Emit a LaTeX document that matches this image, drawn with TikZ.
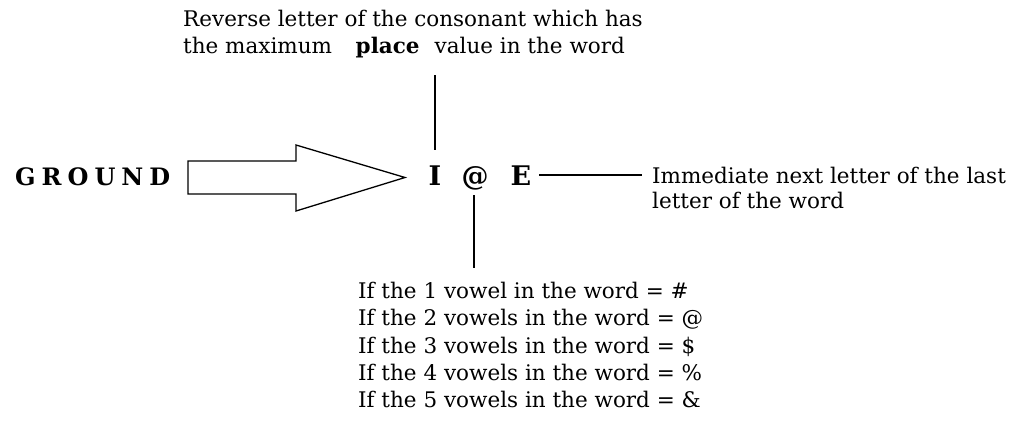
\documentclass[tikz,border=0pt]{standalone}
\usepackage{fontspec}
\setmainfont{DejaVu Serif}
\usepackage{tikz}
\usetikzlibrary{positioning,calc}

\tikzset{
  note/.style={inner sep=0pt, align=left, font=\fontsize{21.5}{27}\selectfont},
  code/.style={inner sep=0pt, font=\fontsize{27}{30}\selectfont\bfseries},
  ln/.style={line width=2.8pt},
  blockarrow/.style={line width=1.3pt}
}

\begin{document}
\begin{tikzpicture}[x=1pt,y=-1pt]
  \useasboundingbox (0,0) rectangle (1011,431);

  % the word and the code letters
  \node[code, anchor=base west, font=\fontsize{24}{30}\selectfont\bfseries] (word) at (15,185)
    {\addfontfeatures{LetterSpace=25}GROUND};
  \node[code, anchor=base] (I) at (435,185) {I};
  \node[code, anchor=base] (at) at (475,185) {@};
  \node[code, anchor=base] (E) at (521,185) {E};

  % block arrow
  \draw[blockarrow] (188,161) -- (296,161) -- (296,145) -- (405,177.5)
    -- (296,211) -- (296,194) -- (188,194) -- cycle;

  % notes
  \node[note, anchor=base west] (top1) at (183,26) {Reverse letter of the consonant which has};
  \node[note, anchor=base west] (top2) at (183,53) {the maximum\hspace{1.1em}\textbf{place}\hspace{0.7em}value in the word};
  \node[note, anchor=base west] (right1) at (652,183) {Immediate next letter of the last};
  \node[note, anchor=base west] (right2) at (652,208) {letter of the word};
  \node[note, anchor=base west] (b1) at (358,298) {If the 1 vowel in the word = \#};
  \node[note, anchor=base west] (b2) at (358,325) {If the 2 vowels in the word = @};
  \node[note, anchor=base west] (b3) at (358,353) {If the 3 vowels in the word = \$};
  \node[note, anchor=base west] (b4) at (358,380) {If the 4 vowels in the word = \%};
  \node[note, anchor=base west] (b5) at (358,407) {If the 5 vowels in the word = \&};

  % connectors
  \coordinate (topend) at (435,75);
  \coordinate (botend) at (474,268);
  \coordinate (rightend) at (642,175);
  \draw[ln] (topend) -- (topend |- 0,150);
  \draw[ln] (botend |- 0,195) -- (botend);
  \draw[ln] (539,175) -- (rightend);
\end{tikzpicture}
\end{document}
